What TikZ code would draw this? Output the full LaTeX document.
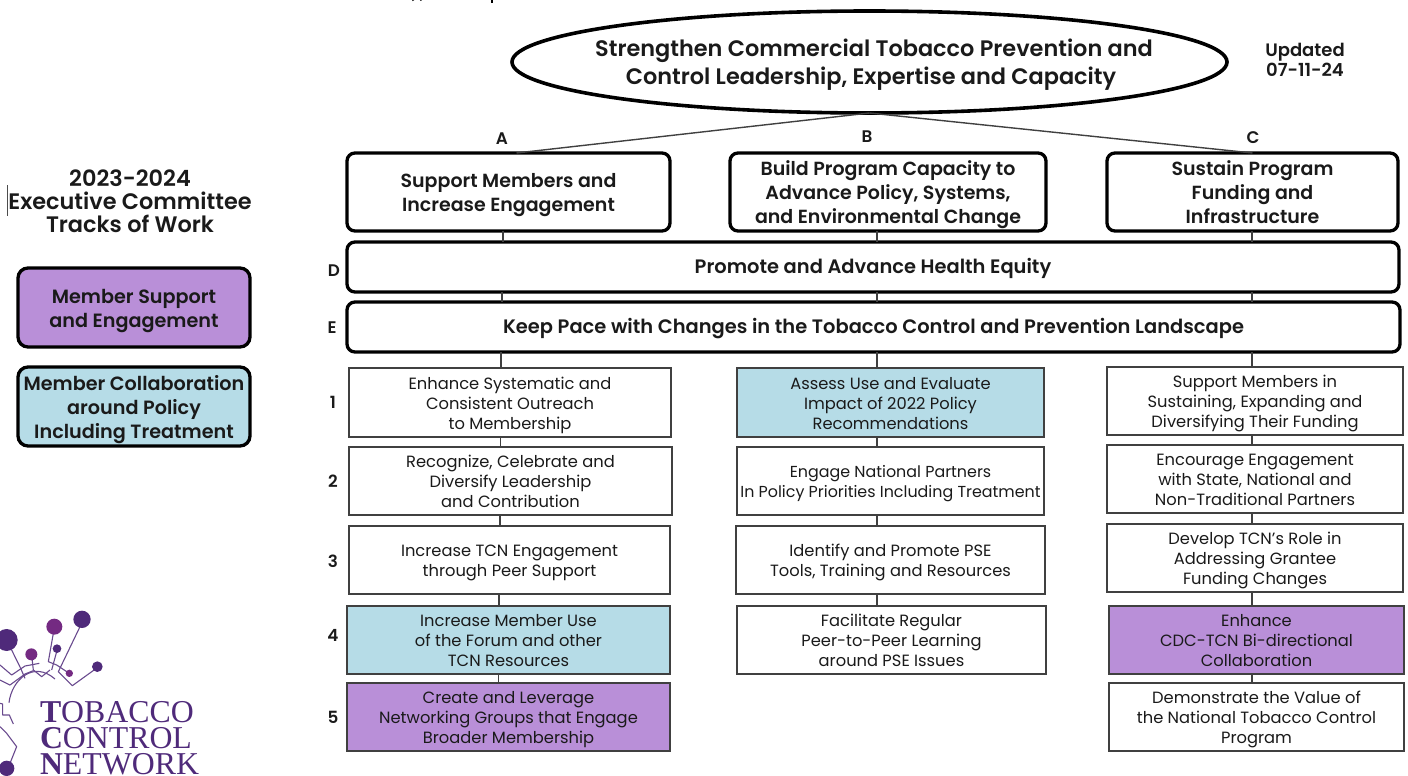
\documentclass[tikz,border=0pt]{standalone}
\usepackage{fontspec}
\setmainfont{Poppins}[BoldFont={Poppins SemiBold}]
\newfontfamily\serifl{Liberation Serif}
\usetikzlibrary{shapes.geometric}
\definecolor{lav}{HTML}{B98FD8}
\definecolor{sky}{HTML}{B6DCE7}
\definecolor{ink}{HTML}{1A1A1A}
\definecolor{edge}{HTML}{404040}
\definecolor{lgdark}{HTML}{4F2A7A}
\definecolor{lgmag}{HTML}{742A82}
\newcommand\ruleh{9pt}
\newcommand\ruled{2.2pt}
\tikzset{
  x=0.5pt,y=-0.5pt,
  every node/.style={inner sep=0pt,outer sep=0pt,text=ink,align=center},
  headbox/.style={draw=black,line width=1.65pt,rounded corners=4pt,fill=white,font=\renewcommand\ruleh{11pt}\renewcommand\ruled{3.5pt}\fontsize{9.5}{11.8}\selectfont\bfseries},
  bandbox/.style={draw=black,line width=1.65pt,rounded corners=4pt,fill=white,font=\renewcommand\ruleh{11pt}\renewcommand\ruled{5pt}\fontsize{9.72}{11.8}\selectfont\bfseries},
  itembox/.style={draw=edge,line width=0.9pt,fill=white,font=\fontsize{8.15}{10}\selectfont},
  legendbox/.style={draw=black,line width=1.65pt,rounded corners=5pt,font=\renewcommand\ruleh{11pt}\renewcommand\ruled{3pt}\fontsize{9.6}{12}\selectfont\bfseries},
  conn/.style={draw=edge,line width=0.7pt},
  tag/.style={font=\fontsize{8.4}{10}\selectfont\bfseries},
  lgline/.style={draw=lgdark!85!white,line width=0.55pt,line join=round},
  lgtext/.style={anchor=south west,align=left,text=lgdark,font=\serifl\fontsize{15.9}{13}\selectfont},
}
\newcommand\bx[7]{\node[#6,minimum width={0.5pt*(#4-#2)},minimum height={0.5pt*(#5-#3)}] (#1) at ({(#2+#4)/2},{(#3+#5)/2}) {\rule{0pt}{\ruleh}#7\rule[-\ruled]{0pt}{\ruled}};}
\newcommand\link[3]{\coordinate (tmpx) at (#3,0); \draw[conn] (#1.south -| tmpx) -- (#2.north -| tmpx);}
\begin{document}
\begin{tikzpicture}
\useasboundingbox (0,0) rectangle (1408,776);
% clipped title fragments
\draw[line width=1.3pt,black] (412,0) arc[start angle=190,end angle=350,x radius=5,y radius=2.2];
\draw[line width=1.3pt,black] (492,0) -- (492,3);
% top ellipse
\node[ellipse,draw=black,line width=1.8pt,fill=white,minimum width={0.5pt*715},minimum height={0.5pt*102}] (top) at (869.5,62) {};
\node[font=\fontsize{11.2}{14}\selectfont\bfseries] (toptext) at (871,63) {\rule{0pt}{12pt}\hspace{3pt}Strengthen Commercial Tobacco Prevention and\\Control Leadership, Expertise and Capacity\rule[-5pt]{0pt}{5pt}};
\node[tag,font=\fontsize{9}{10}\selectfont\bfseries] (upd) at (1305,60) {Updated\\07-11-24};
% heads
\bx{a}{347}{153}{670}{231}{headbox}{Support Members and\\Increase Engagement}
\bx{b}{730}{153}{1046}{231}{headbox}{Build Program Capacity to\\Advance Policy, Systems,\\and Environmental Change}
\bx{c}{1107}{153}{1398}{231}{headbox}{Sustain Program\\Funding and\\Infrastructure}
\bx{d}{347}{242}{1399}{292}{bandbox}{Promote and Advance Health Equity}
\bx{e}{347}{302}{1400}{352}{bandbox}{Keep Pace with Changes in the Tobacco Control and Prevention Landscape}
% column A
\bx{a1}{349}{368}{671}{437}{itembox}{Enhance Systematic and\\Consistent Outreach\\to Membership}
\bx{a2}{349}{447}{672}{515}{itembox}{Recognize, Celebrate and\\Diversify Leadership\\and Contribution}
\bx{a3}{349}{526}{670}{594}{itembox}{Increase TCN Engagement\\through Peer Support}
\bx{a4}{347}{606}{670}{674}{itembox,fill=sky}{Increase Member Use\\of the Forum and other\\TCN Resources}
\bx{a5}{347}{683}{670}{751}{itembox,fill=lav}{Create and Leverage\\Networking Groups that Engage\\Broader Membership}
% column B
\bx{b1}{737}{368}{1044}{437}{itembox,fill=sky}{Assess Use and Evaluate\\Impact of 2022 Policy\\Recommendations}
\bx{b2}{737}{447}{1044}{515}{itembox,font=\fontsize{7.95}{10}\selectfont}{Engage National Partners\\In Policy Priorities Including Treatment}
\bx{b3}{736}{526}{1045}{594}{itembox}{Identify and Promote PSE\\Tools, Training and Resources}
\bx{b4}{737}{606}{1046}{674}{itembox}{Facilitate Regular\\Peer-to-Peer Learning\\around PSE Issues}
% column C
\bx{c1}{1107}{367}{1403}{435}{itembox}{Support Members in\\Sustaining, Expanding and\\Diversifying Their Funding}
\bx{c2}{1107}{445}{1403}{513}{itembox}{Encourage Engagement\\with State, National and\\Non-Traditional Partners}
\bx{c3}{1107}{524}{1403}{592}{itembox}{Develop TCN's Role in\\Addressing Grantee\\Funding Changes}
\bx{c4}{1109}{606}{1404}{674}{itembox,fill=lav}{Enhance\\CDC-TCN Bi-directional\\Collaboration}
\bx{c5}{1109}{683}{1404}{751}{itembox}{Demonstrate the Value of\\the National Tobacco Control\\Program}
% connectors
\draw[conn] (top.south) -- ([xshift=4pt]a.north);
\draw[conn] (top.south) -- (c.north);
\link{a}{d}{503}\link{d}{e}{502}\link{e}{a1}{501}\link{a1}{a2}{500.5}\link{a2}{a3}{500}\link{a3}{a4}{499}\link{a4}{a5}{498.5}
\link{b}{d}{877}\link{d}{e}{877}\link{e}{b1}{877}\link{b1}{b2}{877}\link{b2}{b3}{877}\link{b3}{b4}{877}
\link{c}{d}{1252}\link{d}{e}{1252}\link{e}{c1}{1252}\link{c1}{c2}{1252}\link{c2}{c3}{1252}\link{c3}{c4}{1252}\link{c4}{c5}{1252}
% tags
\node[tag] (ta) at (502,139) {A};
\node[tag] (tb) at (867,137) {B};
\node[tag] (tc) at (1253,138) {C};
\node[tag] (td) at (334,271) {D};
\node[tag] (te) at (332,328) {E};
\node[tag] (n1) at (333,402) {1};
\node[tag] (n2) at (333,481) {2};
\node[tag] (n3) at (333,561) {3};
\node[tag] (n4) at (333,635) {4};
\node[tag] (n5) at (333,717) {5};
% legend
\node[font=\fontsize{11.2}{11.5}\selectfont\bfseries] (ttl) at (130,201) {2023-2024\\Executive Committee\\Tracks of Work};
\draw[line width=0.5pt,black!70] (7,185) -- (7,216);
\bx{l1}{18}{268}{250}{347}{legendbox,fill=lav}{Member Support\\and Engagement}
\bx{l2}{18}{367}{250}{446}{legendbox,fill=sky}{Member Collaboration\\around Policy\\Including Treatment}
% logo
\begin{scope}[shift={(0,580)},x=0.16667pt,y=-0.16667pt]
\draw[lgline] (35,210) -- (62,265) -- (75,295);
\draw[lgline] (0,255) -- (35,285) -- (75,258) -- (118,250);
\draw[lgline] (0,300) -- (30,315) -- (75,282) -- (100,272);
\draw[lgline] (27,368) .. controls (35,300) and (100,240) .. (165,297);
\draw[lgline] (96,235) -- (100,270) -- (125,290) -- (150,270);
\draw[lgline] (160,160) -- (145,245) -- (170,255) -- (203,277);
\draw[lgline] (170,215) -- (155,270);
\draw[lgline] (240,140) -- (175,275) -- (217,317) -- (285,268);
\draw[lgline] (0,370) -- (8,372) -- (8,405) -- (28,405) -- (40,432);
\draw[lgline] (0,440) -- (20,460) -- (50,500) -- (30,550);
\fill[lgdark] (20,180) circle[radius=33];
\fill[lgmag] (163,140) circle[radius=24];
\fill[lgdark] (246,118) circle[radius=26];
\fill[lgmag] (94,223) circle[radius=18];
\fill[lgdark] (171,206) circle[radius=13];
\fill[lgdark] (292,260) circle[radius=16];
\fill[lgmag] (208,280) circle[radius=11];
\fill[lgdark] (20,565) circle[radius=23];
\end{scope}
\node[lgtext] (lg) at (40,775) {\textbf{T}OBACCO\\\textbf{C}ONTROL\\\textbf{N}ETWORK};
\end{tikzpicture}
\end{document}
